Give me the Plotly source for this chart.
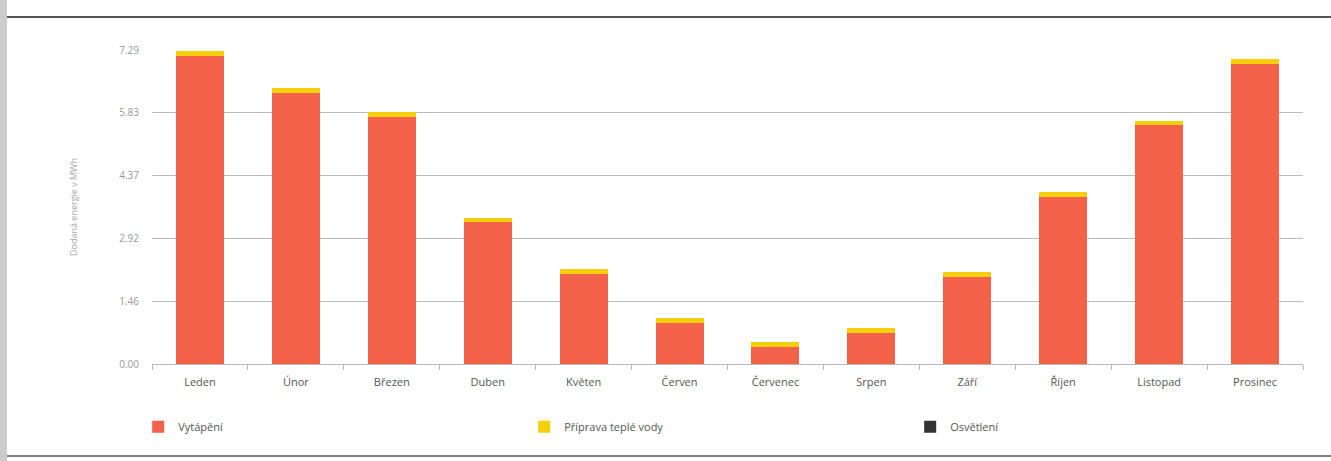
import plotly.graph_objects as go

months = ["Leden", "Únor", "Březen", "Duben", "Květen", "Červen",
          "Červenec", "Srpen", "Září", "Říjen", "Listopad", "Prosinec"]
vytapeni = [7.15, 6.29, 5.73, 3.30, 2.09, 0.95, 0.39, 0.72, 2.02, 3.88, 5.55, 6.97]
teple_voda = [0.12, 0.12, 0.11, 0.10, 0.11, 0.11, 0.11, 0.11, 0.11, 0.11, 0.10, 0.11]
osvetleni = [0, 0, 0, 0, 0, 0, 0, 0, 0, 0, 0, 0]
y_ticks = [0.00, 1.46, 2.92, 4.37, 5.83, 7.29]

fig = go.Figure()
fig.add_bar(x=months, y=vytapeni, name="Vytápění", marker_color="#f4614b",
            marker_line_width=0)
fig.add_bar(x=months, y=teple_voda, name="Příprava teplé vody", marker_color="#f5cf0a",
            marker_line_width=0)
fig.add_bar(x=months, y=osvetleni, name="Osvětlení", marker_color="#333333",
            marker_line_width=0)

fig.update_layout(
    barmode="stack",
    bargap=0.5,
    width=1331, height=461,
    margin=dict(l=152, r=28, t=50, b=97, autoexpand=False),
    paper_bgcolor="white", plot_bgcolor="white",
    font=dict(family="Open Sans, DejaVu Sans, sans-serif", color="#666666", size=11),
    showlegend=True,
    legend=dict(orientation="h", x=-0.012, xanchor="left", y=-0.2, yanchor="middle",
                entrywidth=341, entrywidthmode="pixels", bgcolor="rgba(0,0,0,0)",
                font=dict(size=11, color="#555555"), traceorder="normal",
                itemwidth=30),
    shapes=[
        dict(type="line", xref="paper", yref="paper", x0=-0.2, x1=1.05,
             y0=1.105, y1=1.105, line=dict(color="#555555", width=2)),
        dict(type="line", xref="paper", yref="paper", x0=-0.2, x1=1.05,
             y0=-0.293, y1=-0.293, line=dict(color="#555555", width=1.5)),
        dict(type="rect", xref="paper", yref="paper", x0=-0.135, x1=-0.126,
             y0=-0.35, y1=1.2, fillcolor="#cccccc", line=dict(width=0)),
    ],
)
fig.update_xaxes(
    showgrid=False, showline=True, linecolor="#bbbbbb", linewidth=1,
    ticks="outside", tickson="boundaries", ticklen=5, tickcolor="#bbbbbb",
    ticklabelstandoff=8,
    tickfont=dict(size=11, color="#555555"),
)
fig.update_yaxes(
    range=[0, 7.29], tickvals=y_ticks, ticktext=[f"{v:.2f}" for v in y_ticks],
    showgrid=True, gridcolor="#bbbbbb", gridwidth=1, zeroline=False,
    tickfont=dict(size=10, color="#999999"), ticklabelstandoff=12,
    title=dict(text="Dodaná energie v MWh", font=dict(size=9, color="#aaaaaa"),
               standoff=40),
)

fig.write_html("out.html")
